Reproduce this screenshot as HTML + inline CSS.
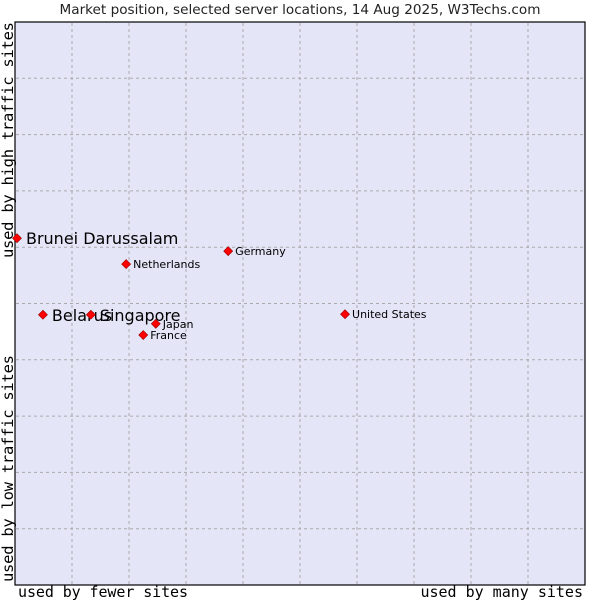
<!DOCTYPE html>
<html><head><meta charset="utf-8"><style>
body{margin:0;background:#fff;width:600px;height:600px;overflow:hidden}
svg text{font-family:"DejaVu Sans","Liberation Sans",sans-serif}
.m{font-family:"DejaVu Sans Mono",monospace !important}
</style></head><body>
<svg id="c" width="600" height="600">
<text x="300" y="14" text-anchor="middle" font-size="13.6" fill="#222">Market position, selected server locations, 14 Aug 2025, W3Techs.com</text>
<rect x="15" y="22" width="570" height="563" fill="#e4e6f8" stroke="#000" stroke-width="1.2"/>
<g id="grid"></g>
<g id="pts"></g>
<text class="m" x="18" y="597" font-size="15" textLength="170">used by fewer sites</text>
<text class="m" x="583" y="597" text-anchor="end" font-size="15">used by many sites</text>
<text class="m" transform="translate(13,258) rotate(-90)" font-size="15.5" textLength="236">used by high traffic sites</text>
<text class="m" transform="translate(13,582) rotate(-90)" font-size="15.5" textLength="227">used by low traffic sites</text>
</svg>
<script>
const names=["Brunei Darussalam","Netherlands","Germany","Belarus","Singapore","Japan","France","United States"];
const xs=[0.35,19.5,37.4,4.9,13.3,24.7,22.5,57.9];
const ys=[61.6,57.0,59.3,48.0,48.0,46.4,44.4,48.1];
const big=[true,false,false,true,true,false,false,false];
const X=v=>15+v*5.7, Y=v=>585-v*5.63;
const ns="http://www.w3.org/2000/svg";
const g=document.getElementById('grid');
for(let i=1;i<10;i++){
 let l=document.createElementNS(ns,'line');
 
 
 l.setAttribute('x1',X(i*10));l.setAttribute('x2',X(i*10));l.setAttribute('y1',23);l.setAttribute('y2',584);
 l.setAttribute('stroke','#aaa');l.setAttribute('stroke-dasharray','3,3');g.appendChild(l);
 let m=document.createElementNS(ns,'line');
 
 
 m.setAttribute('y1',Y(i*10));m.setAttribute('y2',Y(i*10));m.setAttribute('x1',16);m.setAttribute('x2',584);
 m.setAttribute('stroke','#aaa');m.setAttribute('stroke-dasharray','3,3');g.appendChild(m);
}
const p=document.getElementById('pts');
names.forEach((n,i)=>{
 const x=X(xs[i]),y=Y(ys[i]);
 let d=document.createElementNS(ns,'path');
 
 
 d.setAttribute('d',`M${x} ${y-4.5}L${x+4.5} ${y}L${x} ${y+4.5}L${x-4.5} ${y}Z`);
 d.setAttribute('fill','#f00');d.setAttribute('stroke','#900');d.setAttribute('stroke-width','0.6');
 p.appendChild(d);
 let t=document.createElementNS(ns,'text');
 
 
 t.setAttribute('x',x+(big[i]?9:7));t.setAttribute('y',y+(big[i]?6:4));
 t.setAttribute('font-size',big[i]?16:11);t.textContent=n;p.appendChild(t);
});
</script>
</body></html>
